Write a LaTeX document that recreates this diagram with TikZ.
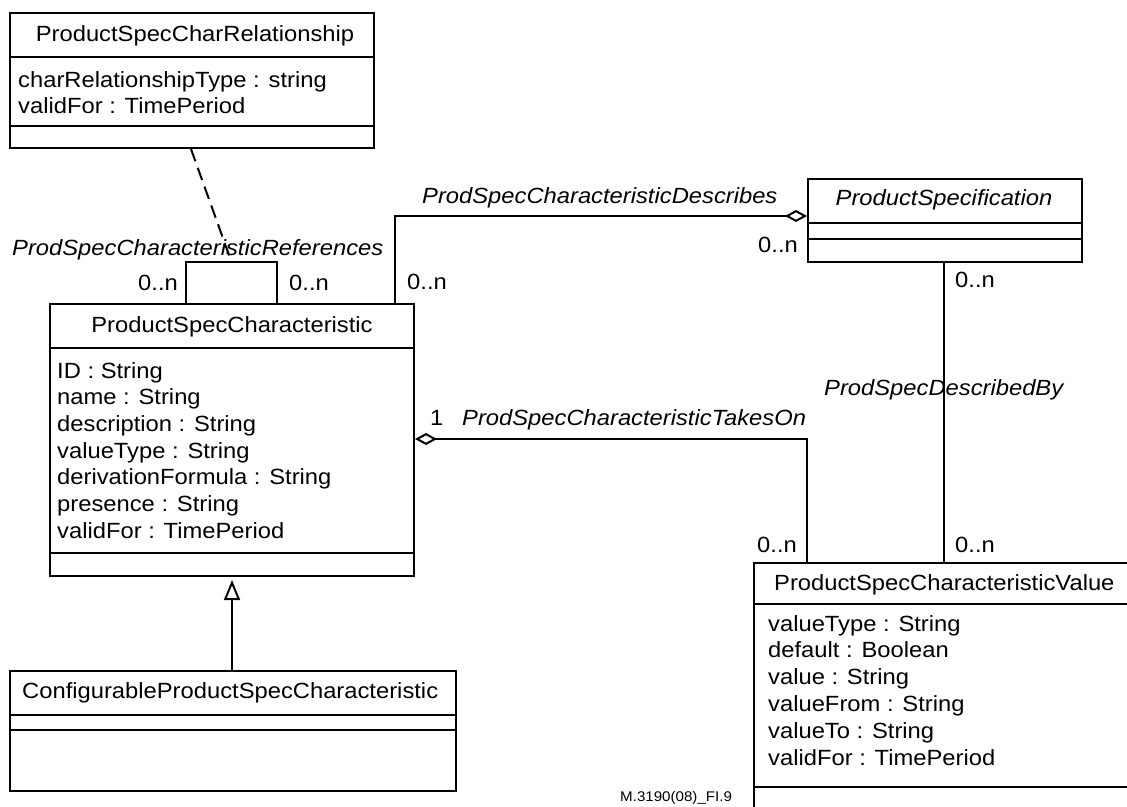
\documentclass[tikz,border=0pt]{standalone}
\usepackage{fontspec}
\setmainfont[FakeStretch=1.08]{Liberation Sans}
\usetikzlibrary{arrows.meta}
\tikzset{
  agg/.tip={Diamond[open,length=22pt,width=12pt]},
  gentip/.tip={Triangle[open,length=20pt,width=16pt]}
}
\begin{document}
\begin{tikzpicture}[x=1pt,y=-1pt,
  cls/.style={draw, line width=2pt, inner sep=0pt, anchor=north west},
  txt/.style={inner sep=0pt, font=\fontsize{22}{26}\selectfont},
  itxt/.style={inner sep=0pt, font=\fontsize{22}{26}\selectfont\itshape},
  conn/.style={line width=2pt},
  divl/.style={line width=2pt}
]
\useasboundingbox (0,0) rectangle (1127,806);
\clip (0,0) rectangle (1127,806);

% ---- classes ----
\node[cls, minimum width=364pt, minimum height=135pt] (pscr) at (9,12) {};
\draw[divl] (pscr.west |- 0,57) -- (pscr.east |- 0,57);
\draw[divl] (pscr.west |- 0,126) -- (pscr.east |- 0,126);
\node[txt, anchor=base] (pscr-t) at (195,41) {ProductSpecCharRelationship};
\node[txt, anchor=base west] (pscr-a1) at (18,87) {charRelationshipType : string};
\node[txt, anchor=base west] (pscr-a2) at (18,113) {validFor : TimePeriod};

\node[cls, minimum width=364pt, minimum height=272pt] (psc) at (49,303) {};
\draw[divl] (psc.west |- 0,348) -- (psc.east |- 0,348);
\draw[divl] (psc.west |- 0,553) -- (psc.east |- 0,553);
\node[txt, anchor=base] (psc-t) at (232,332) {ProductSpecCharacteristic};
\foreach \t [count=\i] in {ID : String, name : String, description : String, valueType : String, derivationFormula : String, presence : String, validFor : TimePeriod}
  \node[txt, anchor=base west] (psc-a\i) at (57,{378+(\i-1)*26.7}) {\t};

\node[cls, minimum width=274pt, minimum height=83pt] (ps) at (807,178) {};
\draw[divl] (ps.west |- 0,223) -- (ps.east |- 0,223);
\draw[divl] (ps.west |- 0,239) -- (ps.east |- 0,239);
\node[itxt, anchor=base] (ps-t) at (944,205) {ProductSpecification};

\node[cls, minimum width=446pt, minimum height=120pt] (cfg) at (9,670) {};
\draw[divl] (cfg.west |- 0,715) -- (cfg.east |- 0,715);
\draw[divl] (cfg.west |- 0,730) -- (cfg.east |- 0,730);
\node[txt, anchor=base west] (cfg-t) at (22,698) {ConfigurableProductSpecCharacteristic};

\node[cls, minimum width=400pt, minimum height=290pt] (val) at (753,562) {};
\draw[divl] (val.west |- 0,604) -- (val.east |- 0,604);
\draw[divl] (val.west |- 0,787) -- (val.east |- 0,787);
\node[txt, anchor=base west] (val-t) at (774,590) {ProductSpecCharacteristicValue};
\foreach \t [count=\i] in {valueType : String, default : Boolean, value : String, valueFrom : String, valueTo : String, validFor : TimePeriod}
  \node[txt, anchor=base west] (val-a\i) at (768,{631+(\i-1)*26.8}) {\t};

% ---- connectors ----
\coordinate (loopL) at (186,262);
\coordinate (loopR) at (277,262);
\coordinate (loopM) at (231.5,262);
\coordinate (relB) at (191,147);
\draw[conn] (psc.north -| loopL) -- (loopL) -- (loopR) -- (psc.north -| loopR);
\draw[conn, dash pattern=on 13pt off 7pt] (pscr.south -| relB) -- (loopM);

\coordinate (dTop) at (395,216);
\draw[conn, -agg] (psc.north -| dTop) -- (dTop) -- (ps.west |- dTop);

\coordinate (tR) at (807,439);
\draw[conn, agg-] (psc.east |- tR) -- (tR) -- (val.north -| tR);

\coordinate (dbX) at (944,300);
\draw[conn] (ps.south -| dbX) -- (val.north -| dbX);

\coordinate (gX) at (232,620);
\draw[conn, -gentip, shorten >=3pt] (cfg.north -| gX) -- (psc.south -| gX);

% ---- labels ----
\node[itxt, anchor=base west] (l-ref) at (12,255) {ProdSpecCharacteristicReferences};
\node[txt, anchor=base west] (m1) at (138,290) {0..n};
\node[txt, anchor=base west] (m2) at (289,290) {0..n};
\node[txt, anchor=base west] (m3) at (407,289) {0..n};
\node[itxt, anchor=base west] (l-desc) at (422,203) {ProdSpecCharacteristicDescribes};
\node[txt, anchor=base west] (m4) at (758,252) {0..n};
\node[txt, anchor=base west] (m5) at (955,287) {0..n};
\node[itxt, anchor=base west] (l-db) at (824,395) {ProdSpecDescribedBy};
\node[txt, anchor=base west] (m6) at (430,425) {1};
\node[itxt, anchor=base west] (l-take) at (462,425) {ProdSpecCharacteristicTakesOn};
\node[txt, anchor=base west] (m7) at (757,552) {0..n};
\node[txt, anchor=base west] (m8) at (955,552) {0..n};
\node[inner sep=0pt, anchor=base west, font=\fontsize{14}{16}\selectfont] (fig) at (620,801) {M.3190(08)\_FI.9};
\end{tikzpicture}
\end{document}
